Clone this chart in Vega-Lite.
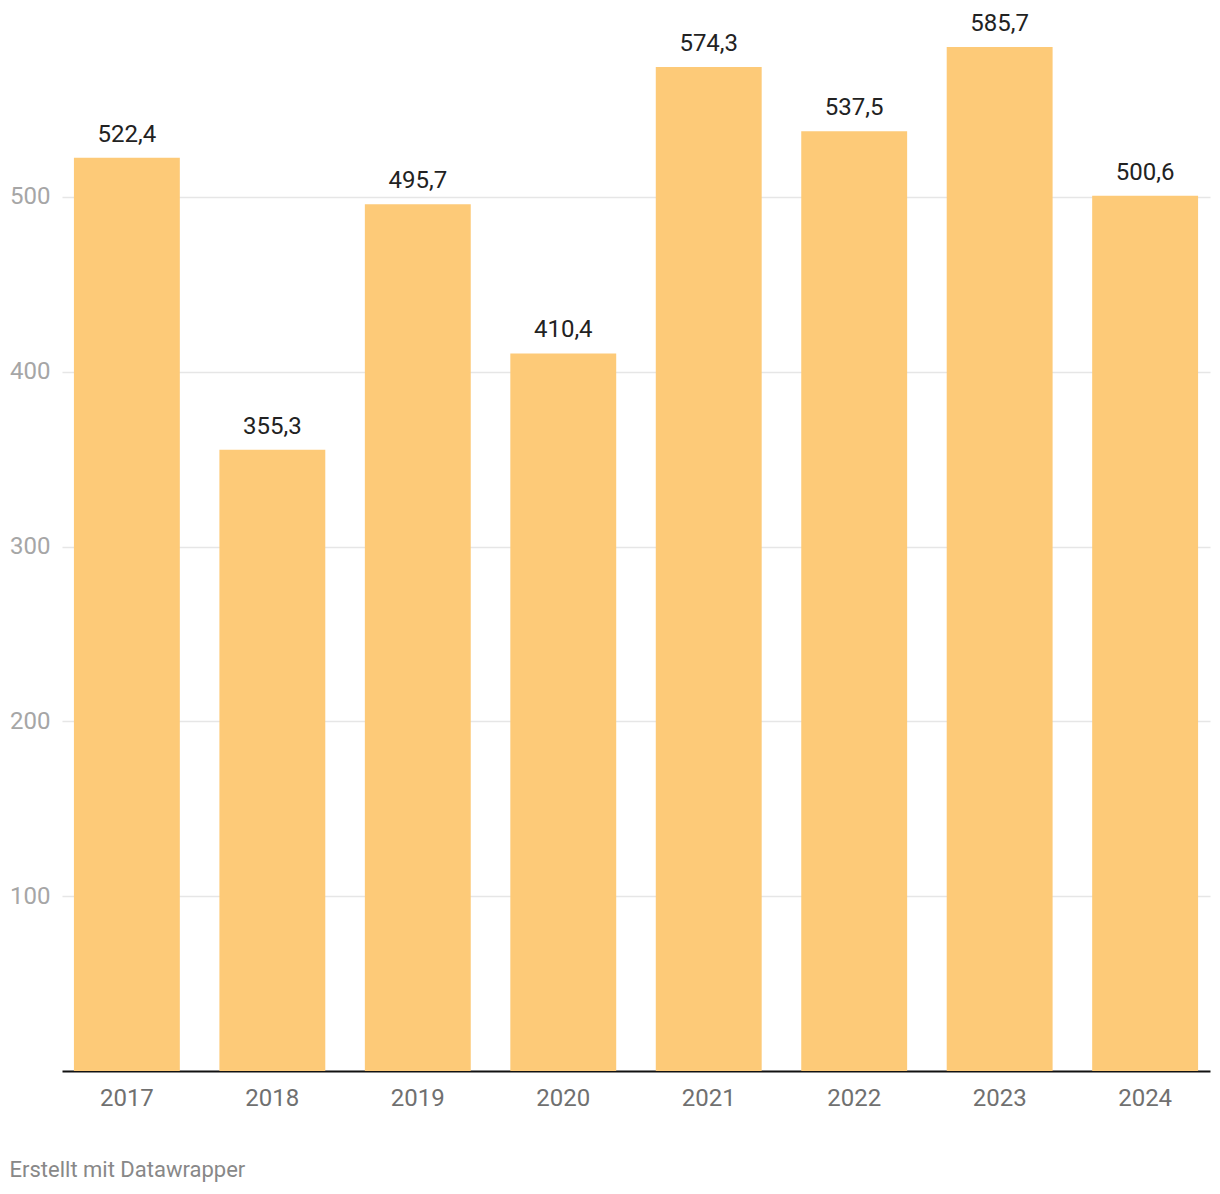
{
  "$schema": "https://vega.github.io/schema/vega-lite/v6.json",
  "width": 1148,
  "height": 1049,
  "autosize": "none",
  "padding": {"left": 62, "top": 22, "right": 10, "bottom": 123},
  "background": "white",
  "config": {
    "view": {"stroke": null},
    "font": "Roboto",
    "locale": {"number": {"decimal": ",", "thousands": ".", "grouping": [3], "currency": ["", " €"]}}
  },
  "title": {
    "text": "Erstellt mit Datawrapper",
    "orient": "bottom",
    "anchor": "start",
    "frame": "bounds",
    "offset": 50,
    "fontSize": 22,
    "fontWeight": "normal",
    "color": "#888888",
    "font": "Roboto"
  },
  "data": {
    "values": [
      {"year": "2017", "value": 522.4},
      {"year": "2018", "value": 355.3},
      {"year": "2019", "value": 495.7},
      {"year": "2020", "value": 410.4},
      {"year": "2021", "value": 574.3},
      {"year": "2022", "value": 537.5},
      {"year": "2023", "value": 585.7},
      {"year": "2024", "value": 500.6}
    ]
  },
  "encoding": {
    "x": {
      "field": "year",
      "type": "ordinal",
      "scale": {"paddingInner": 0.272, "paddingOuter": 0.082},
      "axis": {
        "title": null,
        "labelAngle": 0,
        "ticks": false,
        "domainColor": "#111111",
        "domainWidth": 2,
        "labelFontSize": 24,
        "labelColor": "#707070",
        "labelPadding": 15,
        "labelFont": "Roboto"
      }
    },
    "y": {
      "field": "value",
      "type": "quantitative",
      "scale": {"domain": [0, 600], "nice": false},
      "axis": {
        "title": null,
        "values": [100, 200, 300, 400, 500],
        "domain": false,
        "ticks": false,
        "grid": true,
        "gridColor": "#e6e6e6",
        "gridWidth": 1.5,
        "labelFontSize": 24,
        "labelColor": "#a6a6a6",
        "labelPadding": 12,
        "labelFont": "Roboto"
      }
    }
  },
  "layer": [
    {"mark": {"type": "bar", "color": "#fdca78"}},
    {
      "mark": {"type": "text", "baseline": "alphabetic", "dy": -16, "fontSize": 24, "color": "#222222", "font": "Roboto"},
      "encoding": {"text": {"field": "value", "type": "quantitative", "format": ".1f"}}
    }
  ]
}
